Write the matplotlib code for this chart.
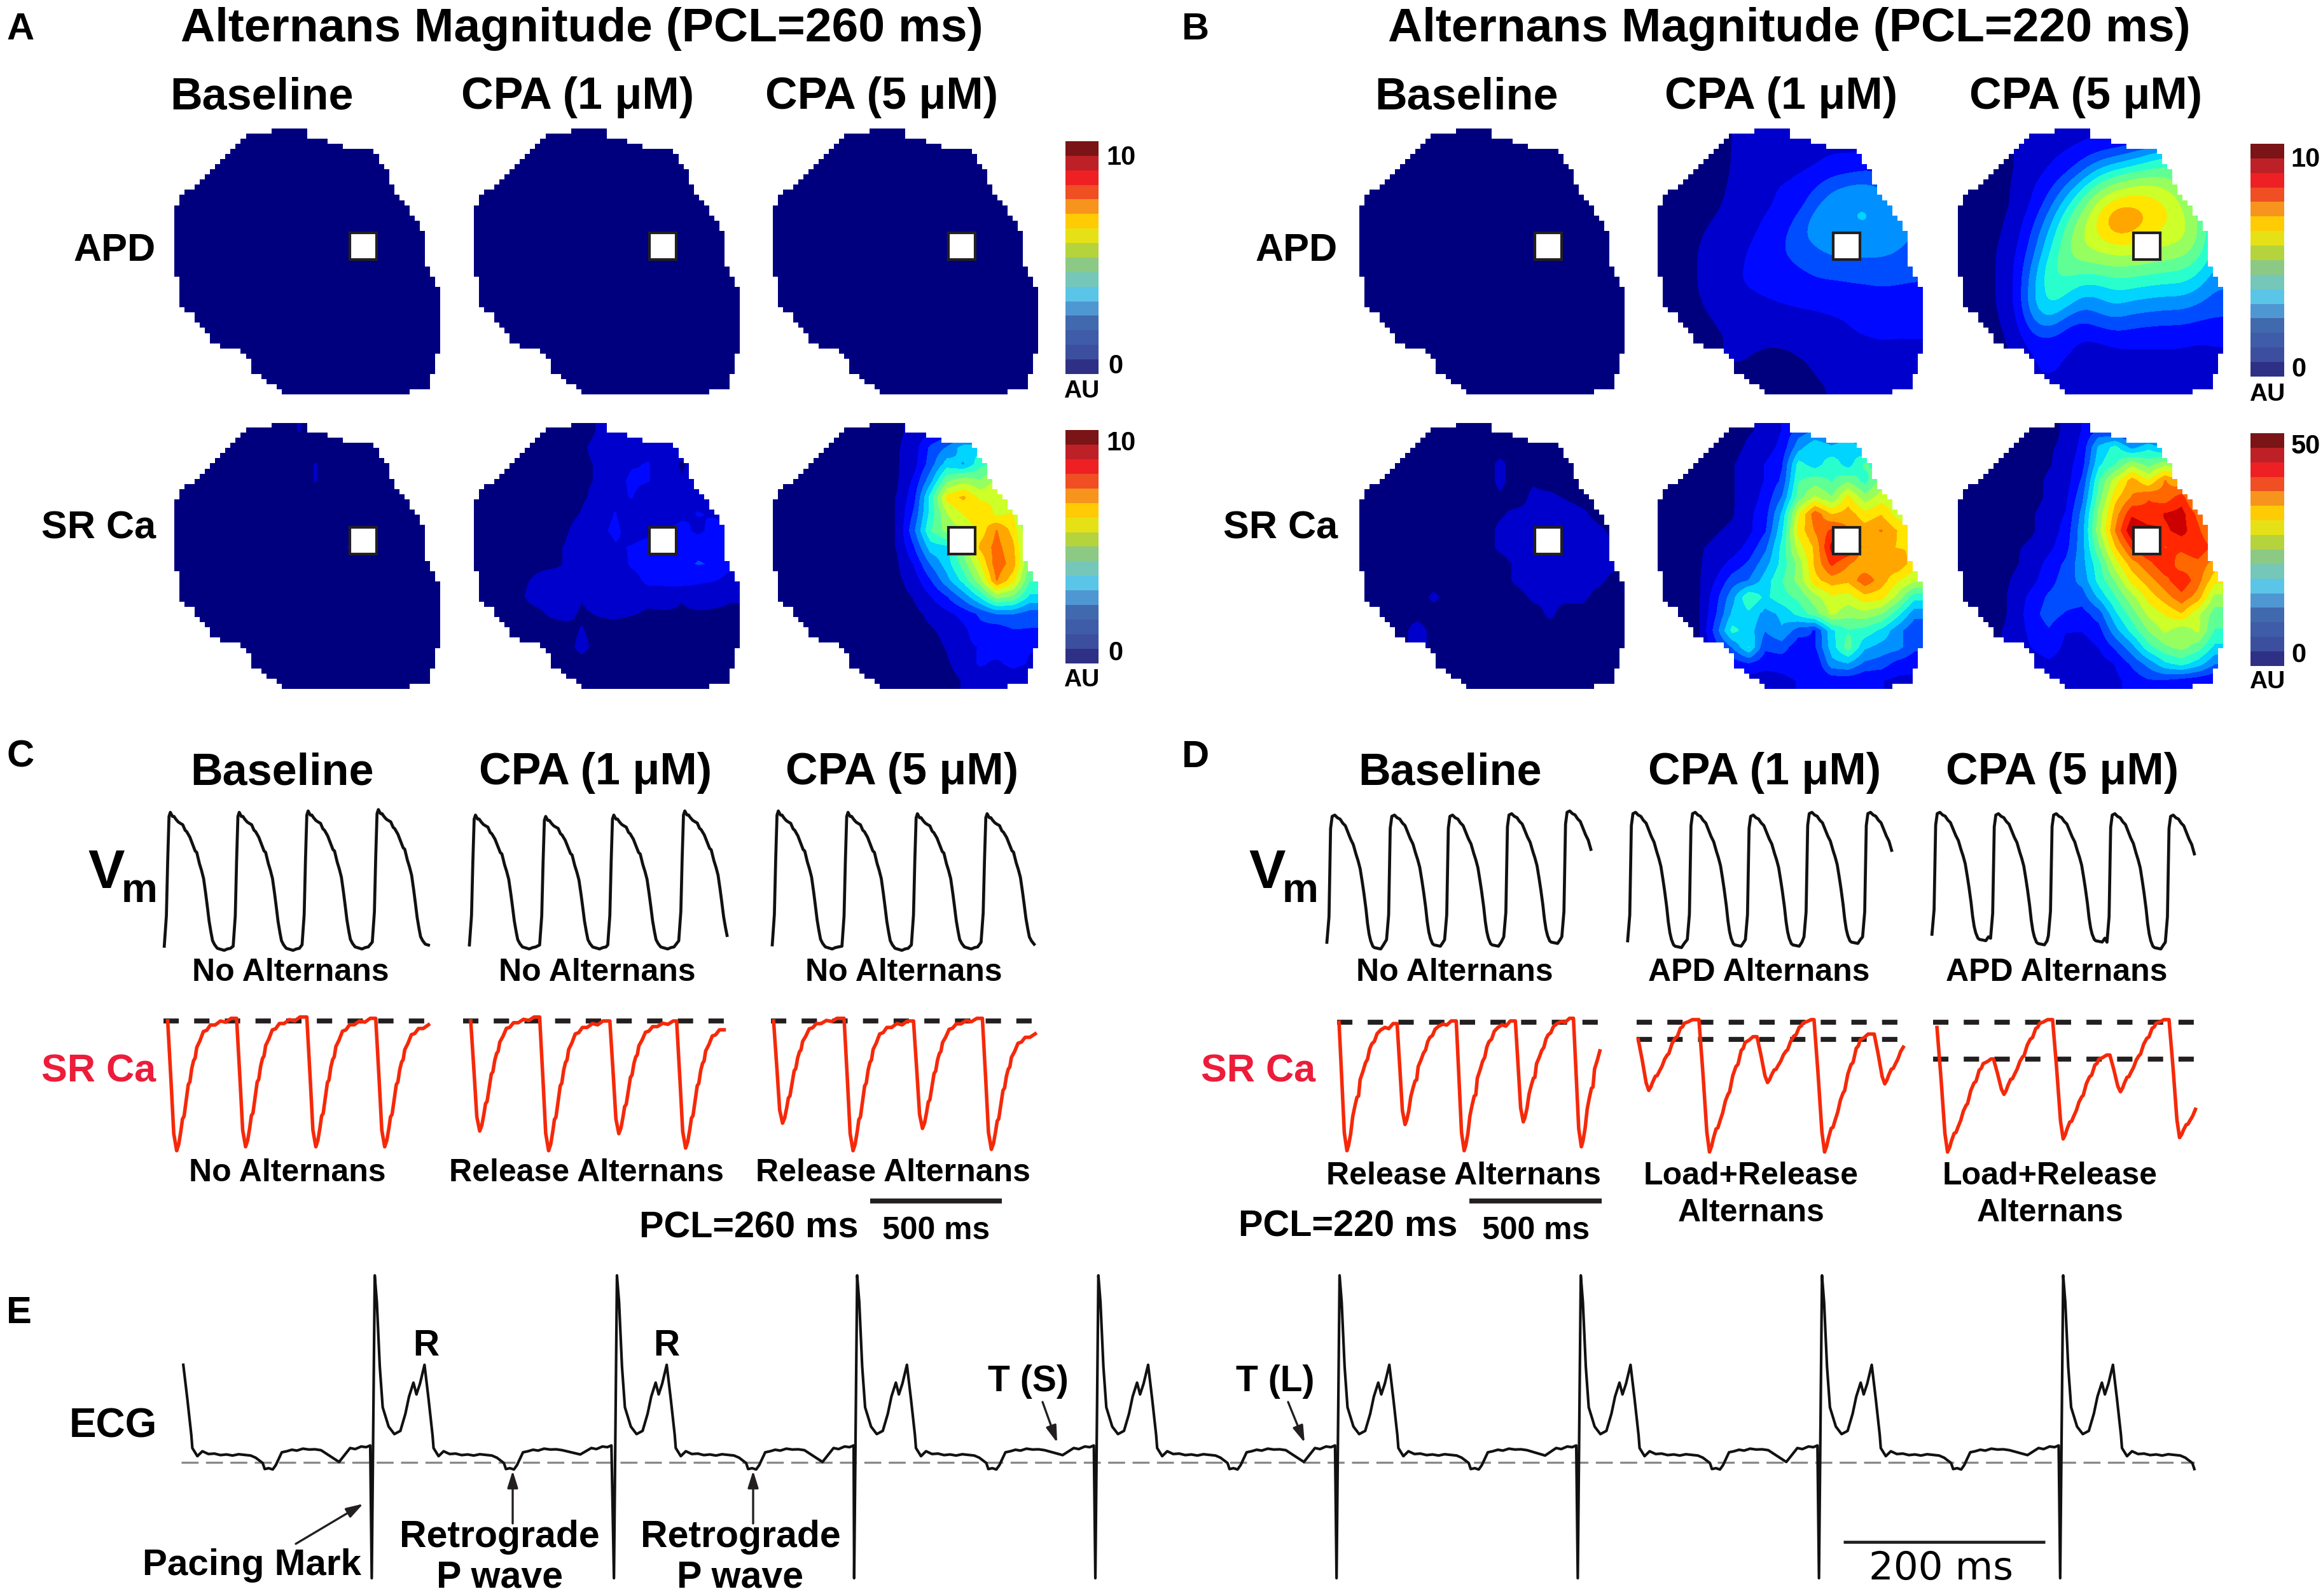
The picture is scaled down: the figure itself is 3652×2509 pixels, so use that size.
import numpy as np
import matplotlib
matplotlib.use("Agg")
import matplotlib.pyplot as plt
from matplotlib.colors import ListedColormap, BoundaryNorm
from matplotlib.patches import Rectangle
from matplotlib.path import Path

plt.rcParams['font.family'] = ['Liberation Sans', 'DejaVu Sans']
W, H = 3652, 2509

# ---------- map data (AU); rows top to bottom ----------
outline_x = [.365,.486,.506,.567,.576,.632,.646,.736,.801,.815,.871,.927,.949,.949,.997,1.0,.983,.983,.947,.871,.865,.419,.348,.292,.287,.242,.152,.084,.014,.008,0,.014,.056,.098,.169,.273,.357]
outline_y = [0,0,.029,.034,.050,.054,.071,.079,.151,.213,.289,.373,.424,.508,.617,.785,.886,.903,.986,.992,1.0,1.0,.953,.911,.877,.835,.810,.718,.650,.524,.349,.272,.230,.205,.129,.029,.020]

zero_map = [[0]*16]*16

a_sr_base = [[0,0,0,0,0,0,0,.3,0,0,0,0,0,0,0,0],[0]*16,[0,0,0,0,0,0,0,0,.3,0,0,0,0,0,0,0],[0,0,0,0,0,0,0,0,.3,0,0,0,0,0,0,0]]+[[0]*16]*3+[[0,0,0,0,0,0,0,0,0,0,.3,.3,0,0,0,0]]+[[0]*16]*8

a_sr_1 = [
[0,0,0,0,0,.1,.1,.3,.4,.5,.5,.4,.3,.3,.3,.3],
[0,0,0,0,0,.1,.2,.4,.5,.6,.8,.5,.5,.4,.3,.3],
[0,0,0,0,0,.1,.2,.3,.6,.9,1,.6,.2,.5,.4,.3],
[0,0,0,0,0,.1,.2,.3,.7,1.1,1,.7,.3,.6,.5,.4],
[0,0,0,0,0,.1,.2,.4,.8,1,.6,.8,.4,.8,.4,.5],
[0,0,0,0,0,.1,.3,.6,1,.6,.9,.5,.8,1,.9,.7],
[0,0,0,0,0,.2,.5,.8,1.1,.7,.8,1,1.2,.8,1.2,.9],
[0,0,0,0,.1,.3,.6,.5,.9,1,1.2,1.4,1.5,1.5,1.6,1.2],
[0,0,0,.1,.1,.3,.4,.8,.5,1.1,1.3,1.3,1.5,1.7,1.6,1.1],
[0,0,.1,.3,.6,.4,.7,.5,.9,.6,1.2,1.2,1.3,1.1,1,.7],
[0,0,.1,.4,.5,.6,.3,.5,.4,.5,.4,.5,.3,.5,.4,.3],
[0,0,0,.1,.3,.4,.2,.3,.4,.3,.2,.2,.2,.2,.2,.2],
[0,0,0,0,.1,.1,.3,.1,0,0,0,.1,.1,.1,.1,.1],
[0,0,0,0,0,.1,.4,.1,0,0,0,0,0,0,0,0],
[0,0,0,0,0,0,.1,0,0,0,0,0,0,0,0,0],
[0]*16]

a_sr_5 = [
[0,0,0,0,0,0,0,.1,.5,.8,1.2,1,.8,.5,.5,.5],
[0,0,0,0,0,0,0,.2,.6,1.8,2.4,3.4,3.6,3,3,2],
[0,0,0,0,0,0,0,.2,.7,2,3.4,3,4.2,4.8,4,3],
[0,0,0,0,0,0,0,.2,1.1,2.8,5,5.6,5.2,6,5.5,4],
[0,0,0,0,0,0,0,.3,1.4,4,6.8,7.4,6.4,6.4,5.5,4],
[0,0,0,0,0,0,0,.3,1.8,4,5.8,6.6,7.2,6.4,6.6,4],
[0,0,0,0,0,0,0,.3,2.2,4.4,5.4,5.8,6.8,8,7,5],
[0,0,0,0,0,0,0,.3,1.6,3.4,3.6,5.4,7.4,8.2,7.4,5],
[0,0,0,0,0,0,0,.2,1,2.4,3.4,4.8,6.5,8.4,7.6,5],
[0,0,0,0,0,0,0,.1,.6,1.6,2.8,4,5.6,8,6.8,4.5],
[0,0,0,0,0,0,0,0,.3,.9,1.6,2.6,3.8,5.4,5,3.6],
[0,0,0,0,0,0,0,0,.1,.4,.8,1.2,1.8,2.4,2.4,2],
[0,0,0,0,0,0,0,0,.1,.2,.4,.8,1.4,1.2,1.6,1.6],
[0,0,0,0,0,0,0,0,0,.1,.3,.8,1,1.4,1.2,1],
[0,0,0,0,0,0,0,0,0,.1,.2,.5,1.1,.8,1.2,.9],
[0,0,0,0,0,0,0,0,0,0,.1,.3,.4,.4,.4,.3]]

b_apd_1 = [
[0,0,0,0,.3,.4,.4,.4,.5,.5,.5,.5,.5,.5,.5,.5],
[0,0,0,0,.3,.5,.6,.7,.7,.8,1,1,1,1,1,1],
[0,0,0,0,.3,.6,.8,.8,.9,1,1.3,1.4,1.6,1.5,1.3,1],
[0,0,0,0,.4,.7,.9,1,1.1,1.6,2.2,2.5,2.6,2.3,2,1.5],
[0,0,0,.1,.5,.7,.9,1,1.3,2.2,2.8,3,3.1,2.9,2.6,2],
[0,0,.1,.3,.6,.8,1,1.2,1.9,2.7,3,3.05,3.1,3,2.8,2.3],
[0,0,.2,.5,.7,.9,1.1,1.5,2.2,2.6,2.8,2.9,3,2.9,2.7,2.3],
[0,0,.3,.6,.8,1,1.2,1.6,2,2.2,2.5,2.5,2.5,2.5,2.3,2],
[0,0,.3,.6,.9,1,1.2,1.3,1.6,1.8,1.9,1.9,2,2,2,1.8],
[0,0,.3,.6,.9,1,1.1,1.2,1.3,1.5,1.5,1.6,1.6,1.7,1.6,1.6],
[0,0,.2,.5,.7,.8,.9,1,1.1,1.1,1.2,1.2,1.3,1.3,1.4,1.4],
[0,0,.1,.3,.5,.5,.5,.6,.7,.8,.9,1,1.1,1.1,1.1,1.2],
[0,0,0,.2,.3,.4,.4,.4,.4,.5,.6,.9,1,1,1,1],
[0,0,0,.2,.4,.3,.2,.2,.3,.3,.5,.6,.7,.9,.8,.8],
[0,0,0,.1,.2,.2,.1,.1,.2,.3,.4,.4,.5,.6,.6,.6],
[0,0,0,0,.1,.1,.2,.1,.1,.2,.3,.3,.3,.3,.3,.3]]

b_apd_5 = [
[0,0,0,.3,.5,.6,.7,.8,.9,.9,1,1,1,1,1,1],
[0,0,0,.3,.6,.8,1,1.3,1.7,2,2.4,3,3.6,3.6,3,2],
[0,0,0,.3,.7,1,1.4,2.2,3.2,3.8,4.2,4.5,4.7,4.4,3.6,2.6],
[0,0,0,.4,.9,1.4,2.4,3.6,4.8,5.5,5.9,6.1,5.8,5.2,4.3,3],
[0,0,0,.4,1,2,3.4,4.8,6.1,7,7.2,6.9,6.6,5.8,4.8,3.5],
[0,0,.1,.6,1.4,2.7,4.3,5.5,6.8,8,7.8,7.2,6.7,6.1,5.2,3.8],
[0,0,.2,.7,1.8,3.3,4.8,5.9,6.6,7.2,7.1,6.6,6.2,6.1,5.2,3.6],
[0,0,.3,.9,2.1,3.8,5,5.6,5.8,6,6,5.7,5.6,5.4,4.8,3.4],
[0,0,.3,1,2.6,4.3,4.8,4.7,4.8,5,4.9,4.8,4.6,4.5,4,2.9],
[0,0,.3,1,2.9,4.2,4.2,3.6,3.6,4,3.9,3.7,3.6,3.6,3.2,2.4],
[0,0,.3,1,3,4,3.5,2.6,2.8,3.2,2.9,2.8,2.7,2.7,2.4,2],
[0,0,.2,.8,2.4,3.1,2.1,1.7,2.1,2.3,2.1,2,1.9,1.9,1.7,1.6],
[0,0,.1,.6,1.6,1.7,1.3,1,1.1,1.4,1.3,1.2,1.2,1.2,1.1,1.1],
[0,0,0,.4,1,1.2,1.1,.7,.7,.8,.9,.9,.9,.9,.8,.9],
[0,0,0,.2,.8,1.4,.7,.5,.4,.5,.4,.5,.5,.6,.6,.6],
[0,0,0,.1,.4,.5,.3,.3,.3,.3,.3,.3,.3,.3,.3,.3]]

b_sr_base = [
[0]*16,[0]*16,
[0,0,0,0,0,0,0,0,2,0,0,0,0,0,0,0],
[0,0,0,0,0,0,0,0,2,0,1,0,0,0,0,0],
[0,0,0,0,0,0,0,0,1,0,2,2,1,0,0,0],
[0,0,0,0,0,0,0,0,1,2,2,3,3,2,0,0],
[0,0,0,0,0,0,0,0,2,2,3,3,3,3,2,0],
[0,0,0,0,0,0,0,0,2,3,3,4,3,3,3,2],
[0,0,0,0,0,0,0,0,0,2,3,4,3,3,3,2],
[0,0,0,0,0,0,0,0,0,2,3,3,3,3,2,0],
[0,0,0,0,2,0,0,0,0,0,2,2,2,2,0,0],
[0,0,0,0,0,0,0,0,0,0,0,2,0,0,0,0],
[0,0,0,3,0,0,0,0,0,0,0,0,0,0,0,0],
[0,0,0,3,0,0,0,0,0,0,0,0,0,0,0,0],
[0]*16,[0]*16]

b_sr_1 = [
[0,0,0,0,0,1,2,5,10,12,10,12,8,5,5,5],
[0,0,0,0,0,2,3,6,14,18,16,18,15,17,14,10],
[0,0,0,0,1,3,5,8,20,17,21,17,23,20,22,20],
[0,0,0,0,1,3,5,9,22,24,22,25,21,27,25,25],
[0,0,0,0,1,3,6,12,24,30,26,34,27,31,30,30],
[0,0,0,0,1,4,7,16,32,42,36,38,34,36,31,30],
[0,0,0,1,2,4,8,18,34,40,44,40,38,40,36,32],
[0,0,1,2,3,6,11,20,31,37,48,47,38,37,36,36],
[0,0,1,3,6,9,14,20,27,37,44,40,37,38,39,34],
[0,0,1,5,10,12,17,22,27,35,38,37,42,38,33,30],
[0,0,1,7,14,22,18,21,23,28,32,31,35,34,28,20],
[0,0,1,8,16,18,14,16,20,24,30,27,28,26,20,13],
[0,0,1,10,20,17,12,15,10,8,18,22,21,18,13,9],
[0,0,1,7,12,19,9,10,6,8,17,24,16,14,13,9],
[0,0,1,3,6,8,6,6,7,5,14,15,11,10,7,6],
[0,0,0,1,2,3,3,4,5,5,6,6,5,5,4,4]]

b_sr_5 = [
[0,0,0,0,0,0,2,5,9,8,6,6,5,4,4,4],
[0,0,0,0,0,1,2,6,16,20,14,18,14,12,12,10],
[0,0,0,0,0,1,3,7,18,22,28,24,28,26,24,20],
[0,0,0,0,0,2,3,9,22,31,38,33,40,36,34,28],
[0,0,0,0,0,2,4,11,24,35,40,43,41,45,36,34],
[0,0,0,0,1,3,5,13,27,38,46,44,47,48,42,36],
[0,0,0,0,1,3,6,14,28,40,50,48,46,48,44,38],
[0,0,0,1,2,4,7,14,25,36,44,47,43,44,46,42],
[0,0,0,1,3,6,9,14,21,31,38,42,46,41,42,38],
[0,0,0,2,4,7,10,13,20,26,34,38,42,46,41,34],
[0,0,0,3,6,9,10,10,16,22,28,34,38,42,38,28],
[0,0,0,3,7,10,8,7,10,18,24,30,33,36,30,24],
[0,0,1,3,6,8,5,5,7,14,20,26,30,27,30,22],
[0,0,1,3,5,7,4,3,5,9,14,21,25,27,24,18],
[0,0,1,2,3,4,3,2,3,5,9,13,18,20,17,12],
[0,0,0,1,2,3,2,2,3,4,6,8,8,7,6,5]]

bar_colors = ['#2e3086','#3c4f9f','#3f5ca9','#4169ae','#4f97d3','#5bc5e8','#75c7ba','#8cc985',
              '#b5d33d','#e6e116','#ffcb05','#f7941d','#f04e23','#ee2024','#bd2026','#7a1416']

# ---------- trace data ----------
# action potential shape: ms after upstroke, % of amplitude
vm_c_t = [-13,-5,0,5,10,18,24,31,40,48,57,66,72,84,96,104,110,120,128,136,144,150,157,164,170,178,188,200,214,226,238]
vm_c_a = [3,25,65,97,100,97,97,95,93,92,91,87,86,82,76,72,71,63,58,52,41,32,21,13,7,4,1.5,.8,0,1,1.5]
vm_d_t = [-14,-6,0,6,16,26,36,46,56,66,76,86,96,104,112,120,126,134,140,146,152,160,166,178,190,200]
vm_d_a = [5,24,90,99,100,98,97,94,92,87,82,78,71,66,60,50,42,30,19,11,6,2,1,.5,0,3]
# SR Ca shape: ms after release onset, fraction of the load
sr_c_t = [0,13,23,34,42,50,56,62,70,78,84,91,98,104,110,122,135,148,162,180,200,220,240]
sr_c_f = [1,.52,.13,0,.05,.15,.24,.26,.38,.5,.52,.62,.68,.7,.78,.83,.9,.91,.95,.95,.98,.97,1]
sr_d_t = [0,8,20,30,36,44,52,60,68,74,80,90,100,108,116,124,134,144,158,174,188,205]
sr_d_f = [1,.66,.14,0,.04,.13,.27,.35,.42,.43,.56,.62,.69,.72,.8,.84,.86,.92,.95,.97,.96,1]
sr_l_t = [0,15,30,40,48,55,65,72,80,90,100,110,116,128,140,148,160,168,175,190,205]
sr_l_f = [1,.6,.15,0,.05,.12,.2,.21,.27,.34,.44,.5,.52,.66,.74,.76,.88,.9,.95,.97,1]

vm_c_on = [[16,277,538,804],[37,303,561,830],[18,282,545,809]]
vm_c_pk = [[100,100,101,102],[98,97,98,101],[101,100,99,99]]
vm_c_tr = [[0,0,1,3],[1,1,1,4],[1,0,1,3]]
vm_c_end = [1005,1007,1005]
vm_d_on = [[14,240,460,684,904],[16,242,462,684,906],[17,239,458,680,901]]
vm_d_pk = [[98,98,98,99,101],[100,100,98,100,100],[100,99,99,99,98]]
vm_d_tr = [[1,3,3,5,5],[2,3,3,5,5],[7,4,6,1,1]]
vm_d_end = [1006,1008,1000]

sr_c_on = [[16,277,543,804],[29,290,556,809],[10,277,540,801]]
sr_c_min = [[1,4,4,4],[16,1,14,3],[22,1,18,2]]
sr_c_top = [[100,102,103,102,99],[100,103,100,100,98],[100,102,100,102,92]]
sr_c_end = [1005,1007,1005]
sr_d_on = [[46,266,490,714,934],[42,272,492,708,936],[22,236,460,677,901]]
sr_d_min = [[1,21,1,23,4],[47,0,53,0,52],[0,44,10,46,11]]
sr_d_top = [[99,98,100,100,102,110],[86,101,88,101,90,108],[95,71,101,74,101,60]]
sr_d_end = [1040,1046,1002]

# ECG: ms after pacing mark, amplitude
ecg_t = [-1.5,1.5,3.6,6.5,9.4,15.3,21,27,32,35.6,40,43,46.5,51,55,59,60,65,70,76,82,88,94,100,106,112,118,123,130,132,136,140,143,149,154,159,164,170,176,182,188,206,217,222,228,233,237]
ecg_v = [-5.39,8.73,7.48,4.48,2.58,1.68,1.33,1.48,2.28,3.08,3.73,3.18,3.68,4.56,2.98,1.28,.68,.30,.53,.40,.42,.35,.38,.33,.39,.36,.33,.23,-.02,-.30,-.26,-.32,-.12,.48,.53,.60,.56,.65,.61,.62,.58,.38,.68,.63,.75,.72,.80]
ecg_pace = [-49,191,432,671,911,1151,1391,1631,1871]
ecg_dip = [.03,.38,.03,.35,.03,.33,.03,.35,.3]
ecg_end = 2003

fig = plt.figure(figsize=(W/100, H/100), dpi=100, facecolor='white')

def px_axes(x0, y0, x1, y1, **kw):
    ax = fig.add_axes([x0/W, 1-y1/H, (x1-x0)/W, (y1-y0)/H], **kw)
    ax.axis('off')
    return ax

jet16 = ListedColormap(plt.get_cmap('jet')(np.linspace(0, 1, 16)))

# stair-stepped recording outline, as in the pixelated original mapping field
n_cell = 52
cc = (np.arange(n_cell)+.5)/n_cell
gx, gy = np.meshgrid(cc, cc)
inside = Path(np.column_stack([outline_x, outline_y])).contains_points(np.column_stack([gx.ravel(), gy.ravel()])).reshape(n_cell, n_cell)
mask_rgba = np.ones((n_cell, n_cell, 4))
mask_rgba[..., 3] = (~inside).astype(float)

def draw_map(x0, y0, grid, scale=1.0, interp='bilinear'):
    ax = px_axes(x0, y0, x0+417, y0+418)
    levels = np.linspace(-.43, 10.72, 17)*scale
    ax.imshow(np.array(grid, float), extent=(0, 1, 1, 0), aspect='auto', cmap=jet16,
              norm=BoundaryNorm(levels, 16, clip=True), interpolation=interp,
              interpolation_stage='data', zorder=1)
    ax.imshow(mask_rgba, extent=(0, 1, 1, 0), aspect='auto', interpolation='nearest', zorder=2)
    ax.add_patch(Rectangle((276/417, 164/418), 42/417, 42/418, fc='white', ec='#231f20', lw=3, zorder=3))
    ax.set_xlim(0, 1)
    ax.set_ylim(1, 0)

def draw_cbar(x0, y0, x1, y1):
    ax = px_axes(x0, y0, x1, y1)
    ax.imshow(np.arange(16)[::-1].reshape(-1, 1), cmap=ListedColormap(bar_colors), aspect='auto', interpolation='nearest')

map_cols_a = [274, 745, 1215]
map_cols_b = [2137, 2606, 3078]
rows = [202, 665]
for cx, g in zip(map_cols_a, [zero_map, zero_map, zero_map]):
    draw_map(cx, rows[0], g)
for cx, g in zip(map_cols_a, [a_sr_base, a_sr_1, a_sr_5]):
    draw_map(cx, rows[1], g)
for cx, g in zip(map_cols_b, [zero_map, b_apd_1, b_apd_5]):
    draw_map(cx, rows[0], g, interp='bicubic')
for cx, g in zip(map_cols_b, [b_sr_base, b_sr_1, b_sr_5]):
    draw_map(cx, rows[1], g, scale=5.0)
draw_cbar(1675, 222, 1727, 588)
draw_cbar(1675, 676, 1727, 1043)
draw_cbar(3538, 226, 3591, 592)
draw_cbar(3538, 681, 3591, 1047)

PX_MS = 0.415
VM_COL = '#111111'
SR_COL = '#f5290a'

def vm_trace(on, pk, tr, tt, aa, end):
    T, V = [], []
    tt = np.array(tt, float); aa = np.array(aa, float)
    for o, p, q in zip(on, pk, tr):
        T.append(o+tt); V.append(q+(p-q)*aa/100)
    T = np.concatenate(T); V = np.concatenate(V)
    m = (T >= 0) & (T <= end)
    return T[m], V[m]

def sr_trace(on, mn, top, tt, ff, end):
    T, V = [], []
    tt = np.array(tt, float); ff = np.array(ff, float)
    k = int(np.argmin(ff))
    for i, (o, q) in enumerate(zip(on, mn)):
        v = np.where(np.arange(len(ff)) <= k, q+(top[i]-q)*ff, q+(top[i+1]-q)*ff)
        T.append(o+tt); V.append(v)
    T = np.concatenate(T); V = np.concatenate(V)
    m = T <= end
    return T[m], V[m]

def trace_axes(left, ytop, ybot, span=1060):
    ax = px_axes(left, ytop, left+span*PX_MS, ybot)
    ax.set_xlim(0, span)
    ax.set_ylim(0, 100)
    return ax

def dashes(ax, xa, xb, y):
    ax.plot([xa, xb], [y, y], color='#231f20', lw=5.6, dashes=(3.1, 3.1),
            dash_capstyle='butt', clip_on=False, zorder=1)

# panel C
c_left = [257, 728, 1212]
for i, l in enumerate(c_left):
    a = trace_axes(l, 1277, 1494)
    t, v = vm_trace(vm_c_on[i], vm_c_pk[i], vm_c_tr[i], vm_c_t, vm_c_a, vm_c_end[i])
    a.plot(t, v, color=VM_COL, lw=3.4, clip_on=False)
    b = trace_axes(l, 1605, 1811)
    dashes(b, 0, vm_c_end[i], 100)
    t, v = sr_trace(sr_c_on[i], sr_c_min[i], sr_c_top[i], sr_c_t, sr_c_f, sr_c_end[i])
    b.plot(t, v, color=SR_COL, lw=4, clip_on=False, zorder=2)

# panel D
d_left = [2086, 2558, 3036]
sr_tmpl = [(sr_d_t, sr_d_f), (sr_l_t, sr_l_f), (sr_l_t, sr_l_f)]
second = [None, 86, 71]
d_dash = [(38, 1040), (36, 1040), (8, 1008)]
for i, l in enumerate(d_left):
    a = trace_axes(l, 1277, 1494)
    t, v = vm_trace(vm_d_on[i], vm_d_pk[i], vm_d_tr[i], vm_d_t, vm_d_a, vm_d_end[i])
    a.plot(t, v, color=VM_COL, lw=3.4, clip_on=False)
    b = trace_axes(l, 1605, 1811)
    dashes(b, d_dash[i][0], d_dash[i][1], 99)
    if second[i] is not None:
        dashes(b, d_dash[i][0], d_dash[i][1], second[i])
    t, v = sr_trace(sr_d_on[i], sr_d_min[i], sr_d_top[i], sr_tmpl[i][0], sr_tmpl[i][1], sr_d_end[i])
    b.plot(t, v, color=SR_COL, lw=4, clip_on=False, zorder=2)

# panel E
e = fig.add_axes([285/W, 1-2481/H, (3480-285)/W, (2481-2005)/H])
e.axis('off')
e.set_xlim(0, (3480-285)/1.58)
e.set_ylim(-5.39, 8.73)
T, V = [], []
dip_i = ecg_t.index(206)
for p, d in zip(ecg_pace, ecg_dip):
    vv = np.array(ecg_v, float)
    vv[dip_i] = d
    T.append(p+np.array(ecg_t)); V.append(vv)
T = np.concatenate(T); V = np.concatenate(V)
m = (T >= 0) & (T <= ecg_end)
e.plot([0, ecg_end], [0, 0], color='#8a8a8a', lw=2.4, dashes=(8, 3.5), zorder=1)
e.plot(T[m], V[m], color='#111111', lw=3, clip_on=False, zorder=2)

# ---------- overlay for text ----------
ov = fig.add_axes([0, 0, 1, 1], zorder=20)
ov.axis('off')
ov.set_xlim(0, W)
ov.set_ylim(H, 0)
ov.patch.set_alpha(0)

def tx(x, y, s, size, ha='center', color='black', weight='bold', family=None):
    kw = {}
    if family:
        kw['family'] = family
    ov.text(x, y+4, s, fontsize=size, ha=ha, va='center', color=color, weight=weight, **kw)

for x, y, s in [(32, 42, 'A'), (1880, 42, 'B'), (32, 1186, 'C'), (1880, 1186, 'D'), (30, 2060, 'E')]:
    tx(x, y, s, 43)
tx(915, 42, 'Alternans Magnitude (PCL=260 ms)', 54)
tx(2813, 42, 'Alternans Magnitude (PCL=220 ms)', 54)
heads = ['Baseline', 'CPA (1 μM)', 'CPA (5 μM)']
for row_y, centers in [(149, [412, 908, 1386]), (149, [2306, 2800, 3279]),
                       (1211, [443, 936, 1418]), (1211, [2280, 2774, 3242])]:
    for c, s in zip(centers, heads):
        tx(c, row_y, s, 50.5)
for xr in (245, 2103):
    tx(xr, 391, 'APD', 44, ha='right')
    tx(xr, 827, 'SR Ca', 44, ha='right')
for c, y, s in [(1762, 244, '10'), (1754, 572, '0'), (1700, 611, 'AU'),
                (1762, 693, '10'), (1754, 1023, '0'), (1700, 1065, 'AU'),
                (3625, 247, '10'), (3614, 577, '0'), (3564, 616, 'AU'),
                (3625, 698, '50'), (3614, 1026, '0'), (3564, 1068, 'AU')]:
    tx(c, y, s, 28 if s == 'AU' else 30)
for x, y, s in [(457, 1525, 'No Alternans'), (939, 1525, 'No Alternans'), (1421, 1525, 'No Alternans'),
                (2287, 1525, 'No Alternans'), (2765, 1525, 'APD Alternans'), (3233, 1525, 'APD Alternans'),
                (452, 1840, 'No Alternans'), (922, 1840, 'Release Alternans'), (1404, 1840, 'Release Alternans'),
                (2301, 1845, 'Release Alternans'), (2753, 1845, 'Load+Release'), (2753, 1903, 'Alternans'),
                (3223, 1845, 'Load+Release'), (3223, 1903, 'Alternans')]:
    tx(x, y, s, 36)
tx(1177, 1926, 'PCL=260 ms', 41.5)
tx(2119, 1924, 'PCL=220 ms', 41.5)
tx(1472, 1931, '500 ms', 36)
tx(2415, 1931, '500 ms', 36)
ov.plot([1368, 1575], [1888, 1888], color='#231f20', lw=5.6, solid_capstyle='butt')
ov.plot([2310, 2518], [1888, 1888], color='#231f20', lw=5.6, solid_capstyle='butt')
for xv, xm in [(167, 219), (1992, 2044)]:
    tx(xv, 1370, 'V', 62)
    tx(xm, 1397, 'm', 46)
tx(245, 1681, 'SR Ca', 44, ha='right', color='#ec1c3a')
tx(2068, 1681, 'SR Ca', 44, ha='right', color='#ec1c3a')
tx(247, 2238, 'ECG', 46, ha='right')
tx(670, 2112, 'R', 41)
tx(1048, 2112, 'R', 41)
tx(1616, 2168, 'T (S)', 41)
tx(2005, 2168, 'T (L)', 41)
tx(396, 2457, 'Pacing Mark', 42)
for c in (785, 1164):
    tx(c, 2412, 'Retrograde', 42.5)
    tx(c, 2476, 'P wave', 42.5)
tx(3051, 2462, '200 ms', 44, weight='normal', family='DejaVu Sans')
ov.plot([2898, 3215], [2424, 2424], color='#231f20', lw=3.4, solid_capstyle='butt')

arrow = dict(arrowstyle='-|>,head_length=1.6,head_width=0.5', color='#231f20', lw=2.4, shrinkA=0, shrinkB=0)
for a_from, a_to in [((465, 2427), (571, 2364)), ((806, 2395), (806, 2312)), ((1184, 2395), (1184, 2312)),
                     ((1639, 2204), (1662, 2268)), ((2025, 2204), (2051, 2268))]:
    ov.annotate('', xy=a_to, xytext=a_from, arrowprops=arrow)

fig.savefig('out.png', dpi=100, facecolor='white')
